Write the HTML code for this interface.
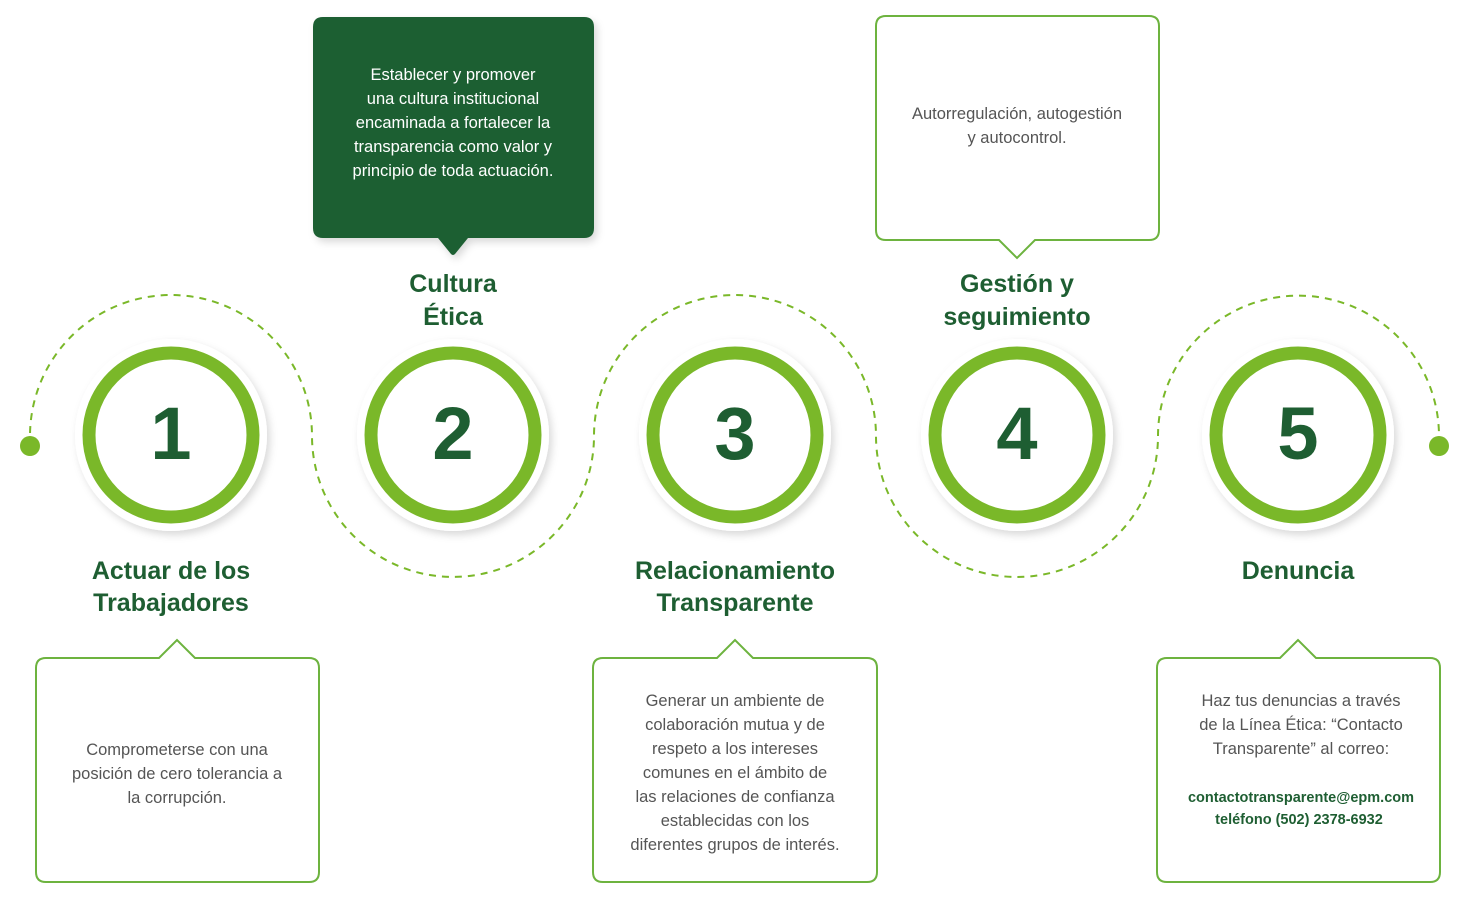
<!DOCTYPE html>
<html><head><meta charset="utf-8"><style>
body{margin:0;background:#fff}
svg{display:block}
text{font-family:"Liberation Sans",sans-serif}
.t{font-size:25px;font-weight:bold;fill:#1e5e32;text-anchor:middle}
.b{font-size:16.5px;fill:#555;text-anchor:middle}
.w{font-size:16.5px;fill:#fff;text-anchor:middle}
.n{font-size:74px;font-weight:bold;fill:#1e5e32;text-anchor:middle}
</style></head><body>
<svg width="1470" height="903" viewBox="0 0 1470 903">
<defs><filter id="s" x="-30%" y="-30%" width="160%" height="160%"><feDropShadow dx="3" dy="4" stdDeviation="4" flood-color="#000" flood-opacity="0.15"/></filter></defs>
<g fill="none" stroke="#7ab829" stroke-width="2" stroke-dasharray="7 6">
<path d="M30 446 L30 436 A140 140 0 0 1 312 436 A140 140 0 0 0 594 436 A140 140 0 0 1 876 436 A140 140 0 0 0 1158 436 A140 140 0 0 1 1439 436 L1439 446"/>
</g>
<circle cx="30" cy="446" r="10" fill="#7ab829"/>
<circle cx="1439" cy="446" r="10" fill="#7ab829"/>
<g>
<circle cx="171" cy="435" r="96" fill="#fff" filter="url(#s)"/>
<circle cx="453" cy="435" r="96" fill="#fff" filter="url(#s)"/>
<circle cx="735" cy="435" r="96" fill="#fff" filter="url(#s)"/>
<circle cx="1017" cy="435" r="96" fill="#fff" filter="url(#s)"/>
<circle cx="1298" cy="435" r="96" fill="#fff" filter="url(#s)"/>
</g>
<g fill="none" stroke="#7ab829" stroke-width="13">
<circle cx="171" cy="435" r="82"/><circle cx="453" cy="435" r="82"/><circle cx="735" cy="435" r="82"/><circle cx="1017" cy="435" r="82"/><circle cx="1298" cy="435" r="82"/>
</g>
<text class="n" x="171" y="459">1</text>
<text class="n" x="453" y="459">2</text>
<text class="n" x="735" y="459">3</text>
<text class="n" x="1017" y="459">4</text>
<text class="n" x="1298" y="459">5</text>

<path d="M323 17 H584 Q594 17 594 27 V228 Q594 238 584 238 H468 L455 254 Q453 256 451 254 L438 238 H323 Q313 238 313 228 V27 Q313 17 323 17Z" fill="#1e5e32" filter="url(#s)"/>
<text class="w" x="453" y="80">Establecer y promover</text>
<text class="w" x="453" y="104">una cultura institucional</text>
<text class="w" x="453" y="128">encaminada a fortalecer la</text>
<text class="w" x="453" y="152">transparencia como valor y</text>
<text class="w" x="453" y="176">principio de toda actuación.</text>

<g fill="#fff" stroke="#6db33f" stroke-width="2">
<path d="M886 16 H1149 Q1159 16 1159 26 V230 Q1159 240 1149 240 H1035 L1017 258 L999 240 H886 Q876 240 876 230 V26 Q876 16 886 16Z"/>
<path d="M46 658 H159 L177 640 L195 658 H309 Q319 658 319 668 V872 Q319 882 309 882 H46 Q36 882 36 872 V668 Q36 658 46 658Z"/>
<path d="M603 658 H717 L735 640 L753 658 H867 Q877 658 877 668 V872 Q877 882 867 882 H603 Q593 882 593 872 V668 Q593 658 603 658Z"/>
<path d="M1167 658 H1280 L1298 640 L1316 658 H1430 Q1440 658 1440 668 V872 Q1440 882 1430 882 H1167 Q1157 882 1157 872 V668 Q1157 658 1167 658Z"/>
</g>
<text class="b" x="1017" y="119">Autorregulación, autogestión</text>
<text class="b" x="1017" y="143">y autocontrol.</text>
<text class="b" x="177" y="755">Comprometerse con una</text>
<text class="b" x="177" y="779">posición de cero tolerancia a</text>
<text class="b" x="177" y="803">la corrupción.</text>
<text class="b" x="735" y="706">Generar un ambiente de</text>
<text class="b" x="735" y="730">colaboración mutua y de</text>
<text class="b" x="735" y="754">respeto a los intereses</text>
<text class="b" x="735" y="778">comunes en el ámbito de</text>
<text class="b" x="735" y="802">las relaciones de confianza</text>
<text class="b" x="735" y="826">establecidas con los</text>
<text class="b" x="735" y="850">diferentes grupos de interés.</text>
<text class="b" x="1301" y="706">Haz tus denuncias a través</text>
<text class="b" x="1301" y="730">de la Línea Ética: “Contacto</text>
<text class="b" x="1301" y="754">Transparente” al correo:</text>
<text x="1301" y="802" style="font-size:14.5px;font-weight:bold;fill:#1e5e32;text-anchor:middle">contactotransparente@epm.com</text>
<text x="1299" y="824" style="font-size:14.5px;font-weight:bold;fill:#1e5e32;text-anchor:middle">teléfono (502) 2378-6932</text>

<text class="t" x="453" y="292">Cultura</text>
<text class="t" x="453" y="325">Ética</text>
<text class="t" x="1017" y="292">Gestión y</text>
<text class="t" x="1017" y="325">seguimiento</text>
<text class="t" x="171" y="579">Actuar de los</text>
<text class="t" x="171" y="611">Trabajadores</text>
<text class="t" x="735" y="579">Relacionamiento</text>
<text class="t" x="735" y="611">Transparente</text>
<text class="t" x="1298" y="579">Denuncia</text>
</svg>
</body></html>
